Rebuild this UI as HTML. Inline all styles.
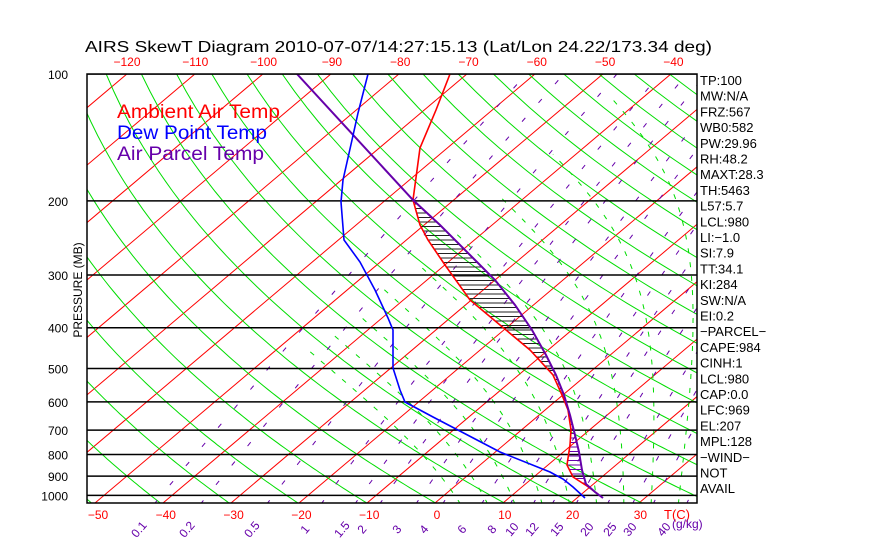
<!DOCTYPE html>
<html><head><meta charset="utf-8"><style>
html,body{margin:0;padding:0;background:#fff;}
svg{display:block;font-family:"Liberation Sans",sans-serif;}
</style></head><body>
<svg id="s" width="870" height="560" xmlns="http://www.w3.org/2000/svg">
<defs><clipPath id="c"><rect x="87" y="74" width="610" height="429"/></clipPath></defs>
<g id="grid" clip-path="url(#c)"></g>
<g id="prof" clip-path="url(#c)"></g>
<rect x="87" y="74" width="610" height="429" fill="none" stroke="#000" stroke-width="1.5"/>
<text x="85" y="52" font-size="16" fill="#000" textLength="627" lengthAdjust="spacingAndGlyphs">AIRS SkewT Diagram 2010-07-07/14:27:15.13 (Lat/Lon 24.22/173.34 deg)</text>
<g font-size="19">
<text x="117" y="118" fill="#f00" textLength="163" lengthAdjust="spacingAndGlyphs">Ambient Air Temp</text>
<text x="117" y="139" fill="#00f" textLength="150" lengthAdjust="spacingAndGlyphs">Dew Point Temp</text>
<text x="117" y="160" fill="#60a" textLength="147" lengthAdjust="spacingAndGlyphs">Air Parcel Temp</text>
</g>
<text transform="translate(82,290) rotate(-90)" font-size="12" text-anchor="middle">PRESSURE (MB)</text>
<g id="lab"></g>
</svg>
<script>
const NS="http://www.w3.org/2000/svg";
const g=document.getElementById('grid'),pr=document.getElementById('prof'),lab=document.getElementById('lab');
const Y=p=>74+183*Math.log(p/100);
const X=(T,y)=>435+6.8*T+(503-y)*1.184;
function el(par,n,a,t){const e=document.createElementNS(NS,n);for(const k in a)e.setAttribute(k,a[k]);if(t!=null)e.textContent=t;par.appendChild(e);return e;}
function poly(par,pts,st,w,da){el(par,'polyline',{points:pts.map(p=>p[0].toFixed(1)+','+p[1].toFixed(1)).join(' '),fill:'none',stroke:st,'stroke-width':w||1,'stroke-dasharray':da||'none'});}
for(let T=-200;T<=60;T+=10){poly(g,[[X(T,503),503],[X(T,74),74]],'#f00',1);}
for(let th=200;th<=620;th+=10){const pts=[];for(let p=1050;p>=100;p-=10){const T=th*Math.pow(p/1000,0.286)-273.15;const y=Y(p);pts.push([X(T,y),y]);}poly(g,pts,'#0d0',1);}
const es=T=>6.112*Math.exp(17.67*T/(T+243.5));
function tdw(w,p){const e=w*p/(622+w);const l=Math.log(e/6.112);return 243.5*l/(17.67-l);}
const ws=[0.1,0.2,0.5,1,1.5,2,3,4,6,8,10,12,15,20,25,30,40,50,60,80];
for(const w of ws){const pts=[];for(let p=1050;p>=100;p-=10){const y=Y(p);pts.push([X(tdw(w,p),y),y]);}poly(g,pts,'#60a',1,'5 20');}
for(let T0=4;T0<=52;T0+=4){let T=T0+273.15,p=1050;const pts=[];while(p>=100&&T>273.15-45){const y=Y(p);pts.push([X(T-273.15,y),y]);const rs=0.622*es(T-273.15)/(p-es(T-273.15));const L=2.5e6,Rd=287,cp=1004;const dTdp=(Rd*T+L*rs)/(p*(cp+L*L*rs*0.622/(Rd*T*T)));p-=5;T-=dTdp*5;}poly(g,pts,'#0d0',1,'5 9');}
const P=[100,200,300,400,500,600,700,800,900,1000];
for(const p of P){const y=Y(p);el(g,'line',{x1:87,x2:697,y1:y,y2:y,stroke:'#000','stroke-width':1.5});
el(lab,'text',{x:68,y:y+5,'font-size':12,'text-anchor':'end'},String(p));}
const red=[[450,74],[436,110],[420,148],[413,200],[420,225],[428,240],[445,265],[470,300],[500,325],[530,350],[553,375],[562,395],[568,410],[571,430],[570,445],[567,465],[573,477],[587,486],[598,494]];
const par=[[297,74],[413,200],[440,225],[470,255],[495,280],[515,305],[532,330],[546,355],[556,375],[564,395],[570,415],[575,435],[579,452],[582,470],[586,484],[595,492],[603,498]];
const blue=[[368,74],[358,113],[352,140],[343,180],[341,202],[344,240],[360,262],[375,290],[388,318],[393,330],[393,368],[400,390],[405,402],[433,417],[500,452],[550,472],[563,479],[573,487],[585,498]];
function ix(pts,y){for(let i=0;i<pts.length-1;i++){const a=pts[i],b=pts[i+1];if(y>=a[1]&&y<=b[1]){const t=(y-a[1])/(b[1]-a[1]||1);return a[0]+t*(b[0]-a[0]);}}return null;}
for(let y=204;y<=492;y+=4.5){const a=ix(red,y),b=ix(par,y);if(a!=null&&b!=null&&b>a+1)el(pr,'line',{x1:a,x2:b,y1:y,y2:y,stroke:y<400?'#222':'#60a','stroke-width':1});}
poly(pr,red,'#f00',1.6);poly(pr,par,'#60a',2);poly(pr,blue,'#00f',1.6);
[-120,-110,-100,-90,-80,-70,-60,-50,-40].forEach((t,i)=>el(lab,'text',{x:127+i*68.3,y:66,'font-size':12,fill:'#f00','text-anchor':'middle'},t<0?'\u2212'+(-t):t));
[-50,-40,-30,-20,-10,0,10,20,30].forEach((t,i)=>el(lab,'text',{x:98+i*67.8,y:519,'font-size':12,fill:'#f00','text-anchor':'middle'},t<0?'\u2212'+(-t):t));
el(lab,'text',{x:664,y:519,'font-size':13,fill:'#f00'},'T(C)');
const wl=[['0.1',142],['0.2',190],['0.5',255],['1',308],['1.5',345],['2',365],['3',400],['4',427],['6',465],['8',495],['10',515],['12',535],['15',560],['20',590],['25',613],['30',633],['40',667]];
for(const [t,x] of wl)el(lab,'text',{transform:`translate(${x},532) rotate(-50)`,'font-size':12,fill:'#60a','text-anchor':'middle'},t);
el(lab,'text',{x:672,y:528,'font-size':12,fill:'#60a'},'(g/kg)');
const R=['TP:100','MW:N/A','FRZ:567','WB0:582','PW:29.96','RH:48.2','MAXT:28.3','TH:5463','L57:5.7','LCL:980','LI:\u22121.0','SI:7.9','TT:34.1','KI:284','SW:N/A','EI:0.2','\u2212PARCEL\u2212','CAPE:984','CINH:1','LCL:980','CAP:0.0','LFC:969','EL:207','MPL:128','\u2212WIND\u2212','NOT','AVAIL'];
R.forEach((t,i)=>el(lab,'text',{x:700,y:85+i*15.7,'font-size':13},t));
</script>
</body></html>
